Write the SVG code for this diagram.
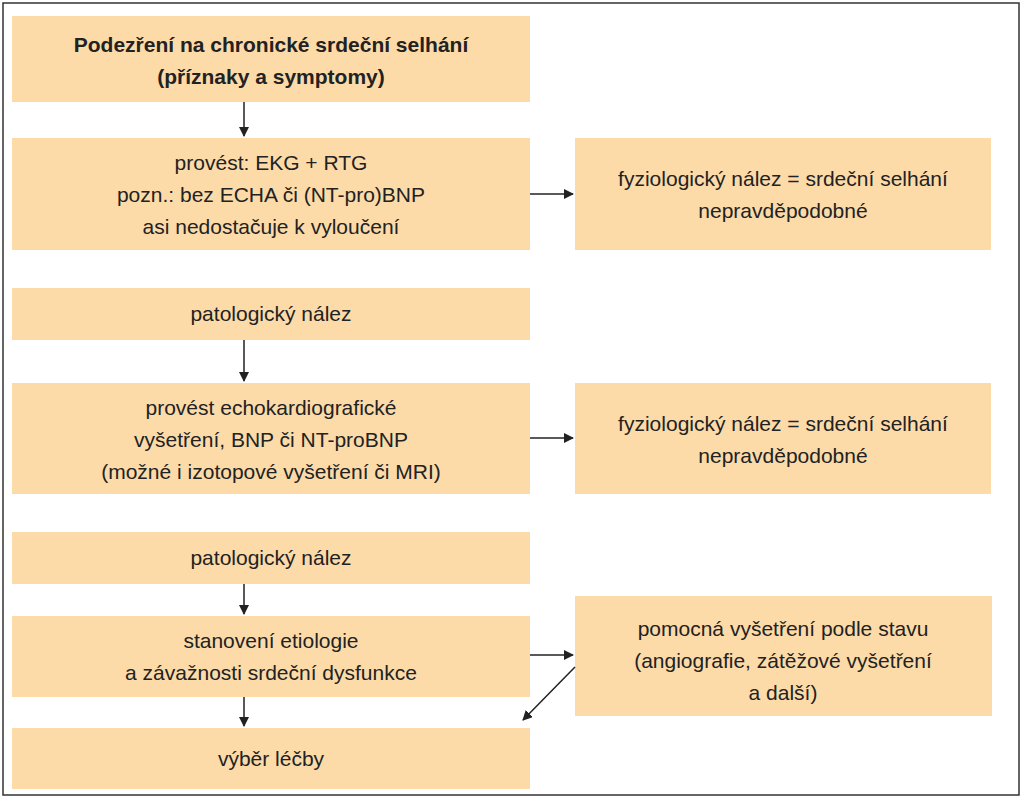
<svg xmlns="http://www.w3.org/2000/svg" width="1026" height="800" viewBox="0 0 1026 800">
<style>
.b{fill:#fcdba9}
text{font-family:"Liberation Sans",Arial,sans-serif;font-size:21px;fill:#222;text-anchor:middle}
.h{font-weight:bold}
.c{stroke:#222;stroke-width:1.5;fill:none}
</style>
<defs><marker id="a" markerWidth="10" markerHeight="10" refX="9" refY="5" orient="auto" markerUnits="userSpaceOnUse"><path d="M0,0 L10,5 L0,10 z" fill="#222"/></marker></defs>
<rect x="3" y="3" width="1016" height="792" fill="#fff" stroke="#333" stroke-width="1.5"/>
<g id="n1"><rect class="b" x="12" y="16" width="518" height="86"/><text class="h" x="271" y="52">Podezření na chronické srdeční selhání</text><text class="h" x="271" y="84">(příznaky a symptomy)</text></g>
<g id="n2"><rect class="b" x="12" y="138" width="518" height="112"/><text x="271" y="170">provést: EKG + RTG</text><text x="271" y="202">pozn.: bez ECHA či (NT-pro)BNP</text><text x="271" y="234">asi nedostačuje k vyloučení</text></g>
<g id="n3"><rect class="b" x="575" y="138" width="416" height="112"/><text x="783" y="186">fyziologický nález = srdeční selhání</text><text x="783" y="218">nepravděpodobné</text></g>
<g id="n4"><rect class="b" x="12" y="288" width="518" height="52"/><text x="271" y="321">patologický nález</text></g>
<g id="n5"><rect class="b" x="12" y="383" width="518" height="111"/><text x="271" y="415">provést echokardiografické</text><text x="271" y="447">vyšetření, BNP či NT-proBNP</text><text x="271" y="479">(možné i izotopové vyšetření či MRI)</text></g>
<g id="n6"><rect class="b" x="575" y="383" width="416" height="111"/><text x="783" y="431">fyziologický nález = srdeční selhání</text><text x="783" y="463">nepravděpodobné</text></g>
<g id="n7"><rect class="b" x="12" y="532" width="518" height="52"/><text x="271" y="565">patologický nález</text></g>
<g id="n8"><rect class="b" x="12" y="616" width="518" height="81"/><text x="271" y="648">stanovení etiologie</text><text x="271" y="680">a závažnosti srdeční dysfunkce</text></g>
<g id="n9"><rect class="b" x="575" y="596" width="417" height="120"/><text x="783" y="636">pomocná vyšetření podle stavu</text><text x="783" y="668">(angiografie, zátěžové vyšetření</text><text x="783" y="700">a další)</text></g>
<g id="n10"><rect class="b" x="12" y="728" width="518" height="61"/><text x="271" y="766">výběr léčby</text></g>
<g id="connectors">
<line class="c" x1="244" y1="102" x2="244" y2="136" marker-end="url(#a)"/>
<line class="c" x1="530" y1="194" x2="573" y2="194" marker-end="url(#a)"/>
<line class="c" x1="244" y1="340" x2="244" y2="381" marker-end="url(#a)"/>
<line class="c" x1="530" y1="438" x2="573" y2="438" marker-end="url(#a)"/>
<line class="c" x1="244" y1="584" x2="244" y2="614" marker-end="url(#a)"/>
<line class="c" x1="530" y1="655" x2="573" y2="655" marker-end="url(#a)"/>
<line class="c" x1="545" y1="674" x2="493" y2="727" marker-end="url(#a)" transform="translate(30,-7)"/>
<line class="c" x1="244" y1="697" x2="244" y2="726" marker-end="url(#a)"/>
</g>
</svg>
